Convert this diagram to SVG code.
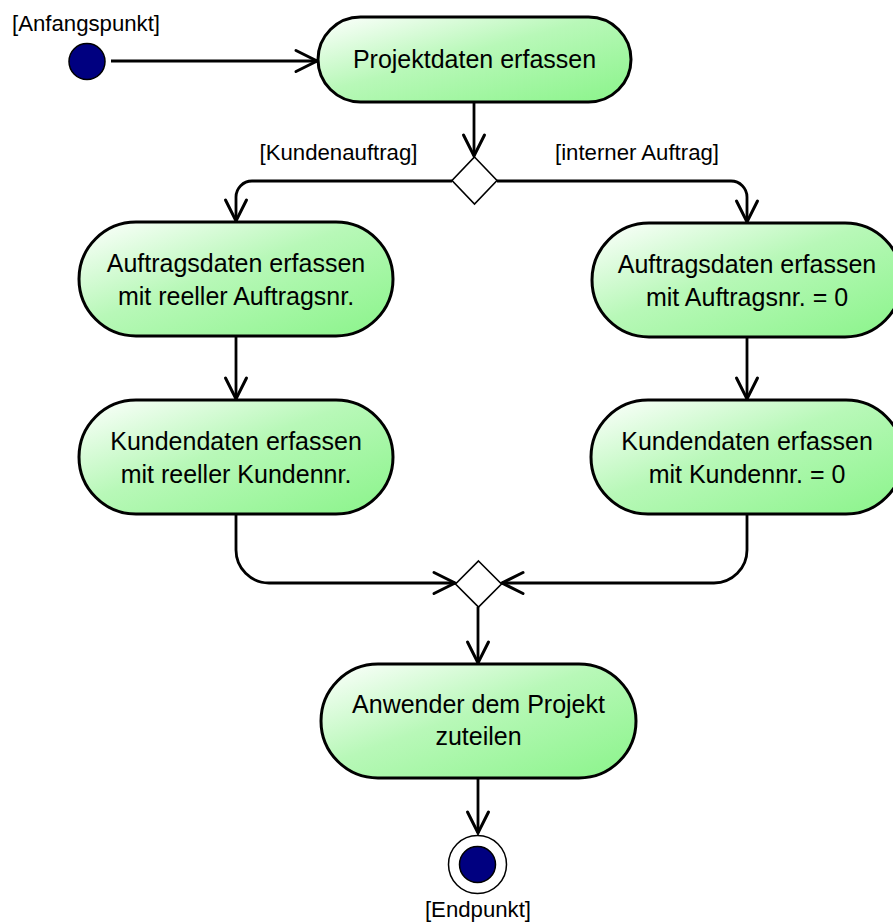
<svg xmlns="http://www.w3.org/2000/svg" width="893" height="923" viewBox="0 0 893 923">
  <defs>
    <linearGradient id="actFill" x1="0" y1="0" x2="1" y2="1">
      <stop offset="0" stop-color="#ffffff"/>
      <stop offset="0.45" stop-color="#b8f8b8"/>
      <stop offset="1" stop-color="#8af48a"/>
    </linearGradient>
    <marker id="open" markerUnits="userSpaceOnUse" markerWidth="30" markerHeight="30" viewBox="-26 -13 30 26" refX="0" refY="0" orient="auto" overflow="visible">
      <path d="M-21,-10.5 L0,0 L-21,10.5" fill="none" stroke="#000" stroke-width="3" stroke-linecap="round" stroke-linejoin="miter"/>
    </marker>
  </defs>
  <style>
    .act { fill: url(#actFill); stroke: #000; stroke-width: 3; }
    .act text, .lbl { font-family: "Liberation Sans", Arial, sans-serif; fill: #000; }
    .act text { font-size: 25px; text-anchor: middle; stroke: none; }
    .lbl { font-size: 22.2px; }
    .dec { fill: #fff; stroke: #000; stroke-width: 1.6; }
    .edge { fill: none; stroke: #000; stroke-width: 2.8; marker-end: url(#open); }
    .dot { fill: #000080; stroke: #000; stroke-width: 1.5; }
  </style>

  <!-- connectors -->
  <g id="connectors">
    <path class="edge" d="M111,61 H317"/>
    <path class="edge" d="M474,102 V156"/>
    <path class="edge" d="M452,181 H252 A16,16 0 0 0 236,197 V221"/>
    <path class="edge" d="M497,181 H731 A16,16 0 0 1 747,197 V222"/>
    <path class="edge" d="M236,336 V399"/>
    <path class="edge" d="M747,337 V399"/>
    <path class="edge" d="M236,514 V550 A33,33 0 0 0 269,583 H455"/>
    <path class="edge" d="M747,514 V550 A33,33 0 0 1 714,583 H502"/>
    <path class="edge" d="M478,607 V663"/>
    <path class="edge" d="M478,778 V833"/>
  </g>

  <!-- start -->
  <g id="start">
    <circle class="dot" cx="87" cy="61.5" r="18"/>
    <text class="lbl" x="12" y="31">[Anfangspunkt]</text>
  </g>

  <g id="projektdaten" class="act">
    <rect x="318" y="17" width="313" height="85" rx="42.5"/>
    <text x="474.5" y="68">Projektdaten erfassen</text>
  </g>

  <g id="decision">
    <polygon class="dec" points="474.5,157 497,180.5 474.5,204 452,180.5"/>
    <text class="lbl" x="338.5" y="160" text-anchor="middle">[Kundenauftrag]</text>
    <text class="lbl" x="637" y="160" text-anchor="middle">[interner Auftrag]</text>
  </g>

  <g id="auftrag-kunde" class="act">
    <rect x="79" y="222" width="314" height="114" rx="57"/>
    <text x="236" y="272">Auftragsdaten erfassen</text>
    <text x="236" y="305">mit reeller Auftragsnr.</text>
  </g>

  <g id="auftrag-intern" class="act">
    <rect x="592" y="223" width="310" height="114" rx="57"/>
    <text x="747" y="273">Auftragsdaten erfassen</text>
    <text x="747" y="306">mit Auftragsnr. = 0</text>
  </g>

  <g id="kunde-reell" class="act">
    <rect x="79" y="400" width="314" height="114" rx="57"/>
    <text x="236" y="450">Kundendaten erfassen</text>
    <text x="236" y="483">mit reeller Kundennr.</text>
  </g>

  <g id="kunde-null" class="act">
    <rect x="591" y="400" width="312" height="114" rx="57"/>
    <text x="747" y="450">Kundendaten erfassen</text>
    <text x="747" y="483">mit Kundennr. = 0</text>
  </g>

  <g id="merge">
    <polygon class="dec" points="478.5,561 501.5,584 478.5,607 455.5,584"/>
  </g>

  <g id="anwender" class="act">
    <rect x="321" y="664" width="315" height="114" rx="57"/>
    <text x="478.5" y="713">Anwender dem Projekt</text>
    <text x="478.5" y="745">zuteilen</text>
  </g>

  <!-- end -->
  <g id="end">
    <circle cx="477.5" cy="864.5" r="29" fill="#fff" stroke="#000" stroke-width="1.5"/>
    <circle class="dot" cx="477.5" cy="864.5" r="18"/>
    <text class="lbl" x="478" y="917" text-anchor="middle">[Endpunkt]</text>
  </g>
</svg>
